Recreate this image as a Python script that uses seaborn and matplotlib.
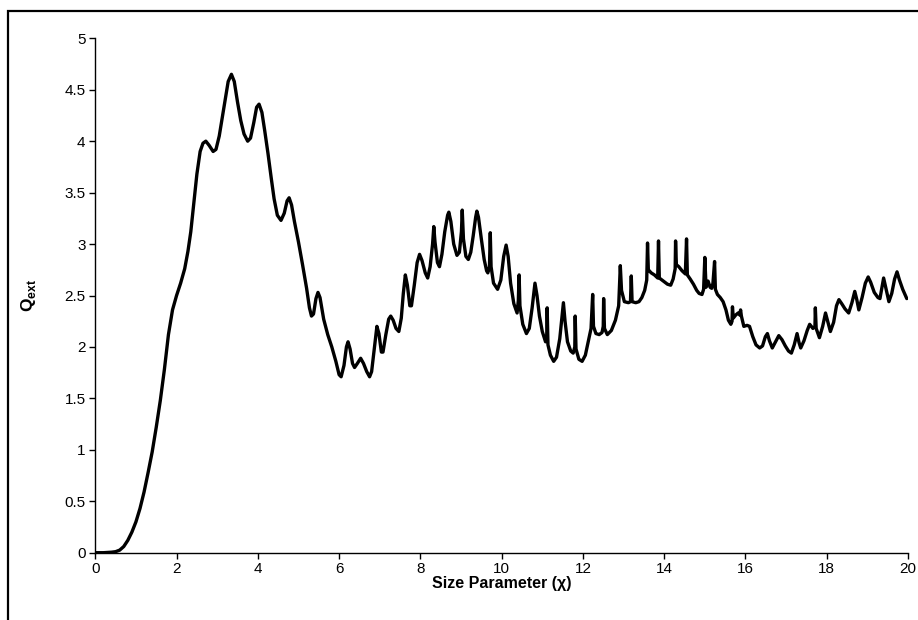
import matplotlib
matplotlib.use("Agg")
import matplotlib.pyplot as plt
import seaborn as sns
import pandas as pd
from matplotlib.patches import Rectangle
from matplotlib.ticker import FuncFormatter

# Extinction efficiency versus size parameter
size_param = [
    0.00, 0.20, 0.40, 0.50, 0.60, 0.70, 0.80, 0.90, 1.00, 1.10,
    1.20, 1.30, 1.40, 1.50, 1.60, 1.70, 1.80, 1.90, 2.00, 2.10,
    2.20, 2.28, 2.35, 2.42, 2.50, 2.58, 2.65, 2.72, 2.80, 2.90,
    2.97, 3.05, 3.12, 3.20, 3.27, 3.35, 3.42, 3.50, 3.58, 3.66,
    3.75, 3.82, 3.90, 3.97, 4.03, 4.10, 4.17, 4.25, 4.33, 4.40,
    4.48, 4.57, 4.65, 4.72, 4.77, 4.83, 4.90, 5.00, 5.10, 5.20,
    5.27, 5.32, 5.37, 5.43, 5.48, 5.53, 5.62, 5.72, 5.82, 5.92,
    6.00, 6.05, 6.12, 6.18, 6.22, 6.27, 6.33, 6.38, 6.45, 6.53,
    6.60, 6.68, 6.75, 6.80, 6.87, 6.93, 6.98, 7.04, 7.08, 7.15,
    7.22, 7.27, 7.33, 7.40, 7.47, 7.53, 7.58, 7.63, 7.68, 7.74,
    7.78, 7.85, 7.92, 7.98, 8.04, 8.12, 8.18, 8.24, 8.30, 8.33,
    8.36, 8.42, 8.47, 8.53, 8.60, 8.67, 8.70, 8.75, 8.82, 8.90,
    8.96, 9.01, 9.03, 9.06, 9.12, 9.18, 9.24, 9.30, 9.36, 9.39,
    9.43, 9.50, 9.57, 9.63, 9.66, 9.70, 9.72, 9.74, 9.80, 9.90,
    9.98, 10.05, 10.11, 10.16, 10.22, 10.30, 10.38, 10.41, 10.43, 10.45,
    10.52, 10.61, 10.68, 10.75, 10.82, 10.87, 10.93, 11.00, 11.08, 11.11,
    11.12, 11.14, 11.20, 11.28, 11.35, 11.43, 11.50, 11.52, 11.56, 11.62,
    11.70, 11.76, 11.80, 11.81, 11.83, 11.90, 11.98, 12.06, 12.14, 12.20,
    12.24, 12.26, 12.32, 12.40, 12.47, 12.50, 12.51, 12.53, 12.60, 12.70,
    12.80, 12.88, 12.92, 12.95, 13.02, 13.12, 13.17, 13.19, 13.21, 13.30,
    13.38, 13.45, 13.52, 13.57, 13.59, 13.61, 13.68, 13.76, 13.84, 13.86,
    13.88, 13.98, 14.08, 14.16, 14.22, 14.27, 14.28, 14.30, 14.36, 14.44,
    14.52, 14.55, 14.57, 14.64, 14.72, 14.80, 14.86, 14.93, 14.97, 15.00,
    15.03, 15.08, 15.13, 15.17, 15.20, 15.24, 15.26, 15.31, 15.38, 15.45,
    15.52, 15.58, 15.64, 15.67, 15.68, 15.70, 15.76, 15.82, 15.86, 15.88,
    15.90, 15.96, 16.04, 16.10, 16.18, 16.26, 16.35, 16.42, 16.49, 16.54,
    16.59, 16.66, 16.74, 16.82, 16.90, 16.98, 17.06, 17.13, 17.20, 17.27,
    17.32, 17.36, 17.44, 17.52, 17.58, 17.66, 17.71, 17.72, 17.74, 17.82,
    17.90, 17.97, 18.03, 18.09, 18.17, 18.24, 18.30, 18.37, 18.45, 18.54,
    18.62, 18.69, 18.74, 18.79, 18.87, 18.95, 19.02, 19.08, 19.17, 19.26,
    19.31, 19.36, 19.40, 19.45, 19.53, 19.60, 19.67, 19.73, 19.79, 19.87,
    19.97,
]

q_ext = [
    0.00, 0.00, 0.005, 0.01, 0.025, 0.06, 0.12, 0.20, 0.30, 0.43,
    0.59, 0.78, 0.98, 1.22, 1.48, 1.78, 2.12, 2.36, 2.50, 2.62,
    2.76, 2.93, 3.12, 3.38, 3.68, 3.90, 3.98, 4.00, 3.96, 3.90,
    3.92, 4.05, 4.22, 4.42, 4.58, 4.65, 4.58, 4.38, 4.20, 4.07,
    4.00, 4.03, 4.18, 4.33, 4.36, 4.28, 4.10, 3.88, 3.64, 3.44,
    3.28, 3.23, 3.30, 3.42, 3.45, 3.38, 3.22, 3.02, 2.80, 2.57,
    2.38, 2.30, 2.32, 2.47, 2.53, 2.48, 2.27, 2.12, 2.00, 1.86,
    1.73, 1.71, 1.82, 2.00, 2.05, 1.98, 1.84, 1.80, 1.84, 1.89,
    1.84, 1.76, 1.71, 1.76, 2.00, 2.20, 2.13, 1.95, 1.95, 2.12,
    2.27, 2.30, 2.26, 2.18, 2.15, 2.28, 2.52, 2.70, 2.60, 2.40,
    2.40, 2.60, 2.82, 2.90, 2.84, 2.72, 2.67, 2.78, 3.00, 3.17,
    3.02, 2.82, 2.78, 2.90, 3.12, 3.28, 3.31, 3.22, 3.00, 2.89,
    2.92, 3.12, 3.33, 3.05, 2.88, 2.85, 2.92, 3.08, 3.26, 3.32,
    3.26, 3.05, 2.85, 2.74, 2.72, 2.78, 3.11, 2.78, 2.62, 2.56,
    2.65, 2.88, 2.99, 2.88, 2.62, 2.42, 2.33, 2.45, 2.70, 2.40,
    2.22, 2.13, 2.18, 2.38, 2.62, 2.50, 2.30, 2.15, 2.05, 2.12,
    2.38, 2.02, 1.92, 1.86, 1.90, 2.08, 2.36, 2.43, 2.25, 2.05,
    1.96, 1.94, 2.00, 2.30, 1.98, 1.88, 1.86, 1.92, 2.07, 2.18,
    2.51, 2.20, 2.13, 2.12, 2.14, 2.20, 2.47, 2.18, 2.12, 2.16,
    2.26, 2.40, 2.79, 2.55, 2.44, 2.43, 2.44, 2.69, 2.44, 2.43,
    2.44, 2.48, 2.55, 2.65, 3.01, 2.75, 2.72, 2.70, 2.67, 3.03,
    2.67, 2.64, 2.61, 2.60, 2.66, 2.76, 3.03, 2.80, 2.78, 2.74,
    2.71, 3.05, 2.70, 2.66, 2.61, 2.55, 2.52, 2.51, 2.56, 2.87,
    2.58, 2.64, 2.58, 2.57, 2.62, 2.83, 2.56, 2.51, 2.48, 2.44,
    2.36, 2.26, 2.22, 2.25, 2.39, 2.28, 2.31, 2.33, 2.31, 2.36,
    2.30, 2.20, 2.21, 2.20, 2.10, 2.02, 1.99, 2.01, 2.10, 2.13,
    2.06, 1.99, 2.05, 2.11, 2.07, 2.01, 1.96, 1.94, 2.02, 2.13,
    2.04, 1.99, 2.06, 2.16, 2.22, 2.18, 2.20, 2.38, 2.18, 2.09,
    2.20, 2.33, 2.24, 2.15, 2.24, 2.40, 2.46, 2.42, 2.37, 2.33,
    2.43, 2.54, 2.46, 2.36, 2.48, 2.62, 2.68, 2.63, 2.53, 2.48,
    2.47, 2.58, 2.67, 2.58, 2.44, 2.52, 2.66, 2.73, 2.65, 2.56,
    2.47,
]

x_ticks = [0, 2, 4, 6, 8, 10, 12, 14, 16, 18, 20]
y_ticks = [0, 0.5, 1, 1.5, 2, 2.5, 3, 3.5, 4, 4.5, 5]

df = pd.DataFrame({"x": size_param, "q": q_ext})

sns.set_theme(style="white")
plt.rcParams["font.family"] = ["Liberation Sans", "DejaVu Sans"]
plt.rcParams["text.color"] = "black"
plt.rcParams["axes.labelcolor"] = "black"
plt.rcParams["mathtext.fontset"] = "custom"
plt.rcParams["mathtext.rm"] = "Liberation Sans"
plt.rcParams["mathtext.bf"] = "Liberation Sans:bold"

fig = plt.figure(figsize=(9.18, 6.2), dpi=100)
fig.patch.set_facecolor("white")

# Chart-area border (left and top edges visible)
fig.patches.append(Rectangle((8 / 918, -0.05), 1.2, 1 - 11 / 620 + 0.05,
                             transform=fig.transFigure, fill=False,
                             edgecolor="black", linewidth=1.6))

ax = fig.add_axes([95.3 / 918, (620 - 552.7) / 620,
                   (908 - 95.3) / 918, (552.7 - 38.3) / 620])
ax.set_facecolor("white")

sns.lineplot(data=df, x="x", y="q", ax=ax, color="black", linewidth=2.4,
             sort=False, estimator=None)

ax.set_xlim(0, 20)
ax.set_ylim(0, 5)
ax.set_xticks(x_ticks)
ax.set_yticks(y_ticks)
ax.yaxis.set_major_formatter(FuncFormatter(lambda v, p: f"{v:g}"))
ax.xaxis.set_major_formatter(FuncFormatter(lambda v, p: f"{v:g}"))

for side in ("top", "right"):
    ax.spines[side].set_visible(False)
for side in ("left", "bottom"):
    ax.spines[side].set_color("black")
    ax.spines[side].set_linewidth(1.0)

ax.tick_params(axis="both", which="major", direction="out", length=4,
               width=1.0, color="black", labelsize=11, labelcolor="black",
               bottom=True, left=True, pad=3)

ax.set_xlabel("Size Parameter (χ)", fontsize=11.5, fontweight="bold",
              color="black", labelpad=0)
ax.set_ylabel(r"$\mathbf{Q}_{\mathbf{ext}}$", fontsize=12.5, color="black",
              labelpad=19)

fig.savefig("out.png", dpi=100, facecolor="white")
